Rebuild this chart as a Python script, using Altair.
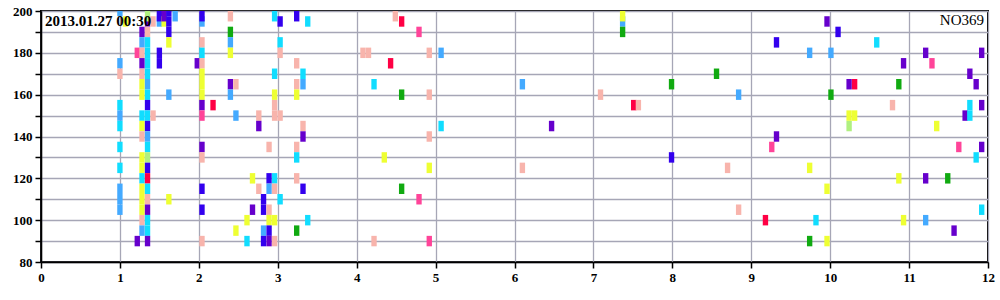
import altair as alt
import pandas as pd

# category colour names -> colours
cat_names = ["LB", "CY", "PK", "YE", "VI", "BL", "RD", "HP", "GR", "LG"]
cat_colors = ["#44aaff", "#11ddff", "#f8b4ac", "#eeff33", "#6600cc",
              "#3300ee", "#ff0044", "#ff4499", "#11aa11", "#b0f080"]

xs = [
    1.0, 1.0, 1.0, 1.0, 1.0, 1.0, 1.0, 1.0, 1.0, 1.0, 1.0,
    1.07, 1.22, 1.22,
    1.28, 1.28, 1.28, 1.28, 1.28, 1.28, 1.28, 1.28, 1.28, 1.28, 1.28, 1.28, 1.28, 1.28, 1.28, 1.28, 1.28, 1.28,
    1.35, 1.35, 1.35, 1.35, 1.35, 1.35, 1.35, 1.35, 1.35, 1.35, 1.35, 1.35, 1.35, 1.35, 1.35, 1.35, 1.35, 1.35, 1.35, 1.35, 1.35, 1.35, 1.35,
    1.42, 1.42,
    1.5, 1.5, 1.5, 1.5,
    1.56, 1.56,
    1.62, 1.62, 1.62, 1.62, 1.62, 1.62,
    1.70, 1.98,
    2.04, 2.04, 2.04, 2.04, 2.04, 2.04, 2.04, 2.04, 2.04, 2.04, 2.04, 2.04, 2.04, 2.04, 2.04,
    2.18,
    2.4, 2.4, 2.4, 2.4, 2.4, 2.4,
    2.47, 2.47, 2.47,
    2.61, 2.61,
    2.68, 2.68,
    2.76, 2.76, 2.76,
    2.82, 2.82, 2.82, 2.82,
    2.89, 2.89, 2.89, 2.89, 2.89, 2.89, 2.89,
    2.96, 2.96, 2.96, 2.96, 2.96, 2.96, 2.96, 2.96, 2.96,
    3.03, 3.03, 3.03, 3.03, 3.03,
    3.24, 3.24, 3.24, 3.24, 3.24, 3.24, 3.24, 3.24,
    3.32, 3.32, 3.32, 3.32, 3.32,
    3.38, 3.38,
    4.08, 4.15, 4.22, 4.22, 4.35, 4.43, 4.49,
    4.57, 4.57, 4.57, 4.79, 4.79,
    4.92, 4.92, 4.92, 4.92, 4.92,
    5.07, 5.07,
    6.1, 6.1, 6.47, 7.09,
    7.37, 7.37, 7.37,
    7.51, 7.57,
    7.99, 7.99, 8.56, 8.70, 8.84, 8.84,
    9.18, 9.26, 9.32, 9.32,
    9.74, 9.74, 9.74, 9.82,
    9.96, 9.96, 9.96,
    10.01, 10.01, 10.1,
    10.24, 10.24, 10.24, 10.31, 10.31,
    10.59, 10.79, 10.87, 10.87, 10.93, 10.93,
    11.21, 11.21, 11.21, 11.29, 11.35, 11.49, 11.57, 11.63,
    11.71, 11.77, 11.77, 11.77, 11.85, 11.85,
    11.92, 11.92, 11.92, 11.92,
]

ys = [
    200, 175, 170, 155, 150, 145, 135, 125, 115, 110, 105,
    195, 180, 90,
    190, 185, 180, 175, 170, 165, 160, 150, 145, 140, 130, 125, 120, 115, 110, 105, 100, 95,
    195, 197.5, 190, 185, 180, 175, 170, 165, 160, 155, 150, 145, 140, 135, 130, 125, 120, 115, 110, 105, 100, 95, 90,
    195, 150,
    195, 197.5, 180, 175,
    195, 197.5,
    200, 195, 190, 185, 160, 110,
    197.5, 175,
    195, 197.5, 185, 180, 175, 170, 165, 160, 155, 150, 135, 130, 115, 105, 90,
    155,
    197.5, 190, 185, 180, 165, 160,
    165, 150, 95,
    100, 90,
    120, 105,
    150, 145, 115,
    110, 105, 95, 90,
    135, 120, 115, 105, 100, 95, 90,
    197.5, 170, 160, 155, 150, 120, 115, 100, 90,
    195, 185, 180, 150, 110,
    197.5, 175, 165, 160, 135, 130, 120, 95,
    170, 165, 145, 140, 115,
    195, 100,
    180, 180, 165, 90, 130, 175, 197.5,
    195, 160, 115, 190, 110,
    180, 160, 140, 125, 90,
    180, 145,
    165, 125, 145, 160,
    195, 197.5, 190,
    155, 155,
    165, 130, 170, 125, 160, 105,
    100, 135, 185, 140,
    180, 125, 90, 100,
    195, 115, 90,
    180, 160, 190,
    165, 150, 145, 165, 150,
    185, 155, 165, 120, 175, 100,
    180, 120, 100, 175, 145, 120, 95, 135,
    150, 170, 155, 150, 165, 130,
    180, 155, 135, 105,
]

cs = [
    "LB", "LB", "PK", "CY", "LB", "CY", "CY", "CY", "LB", "LB", "LB",
    "YE", "HP", "VI",
    "VI", "LB", "PK", "VI", "PK", "YE", "YE", "CY", "YE", "PK", "YE", "YE", "CY", "YE", "YE", "YE", "PK", "LB",
    "VI", "LG", "PK", "CY", "CY", "CY", "CY", "LB", "CY", "BL", "CY", "BL", "LB", "CY", "LG", "BL", "RD", "CY", "PK", "VI", "CY", "CY", "VI",
    "PK", "PK",
    "LB", "BL", "BL", "BL",
    "YE", "VI",
    "BL", "BL", "BL", "YE", "LB", "YE",
    "LB", "VI",
    "LB", "BL", "PK", "CY", "PK", "YE", "YE", "YE", "VI", "HP", "VI", "PK", "BL", "BL", "PK",
    "RD",
    "PK", "GR", "LB", "YE", "VI", "LB",
    "PK", "LB", "YE",
    "YE", "CY",
    "YE", "VI",
    "PK", "VI", "PK",
    "BL", "BL", "LB", "BL",
    "PK", "BL", "LB", "PK", "YE", "BL", "VI",
    "CY", "CY", "YE", "PK", "PK", "CY", "PK", "YE", "PK",
    "BL", "CY", "PK", "PK", "CY",
    "BL", "PK", "PK", "YE", "PK", "CY", "PK", "GR",
    "CY", "LB", "PK", "VI", "BL",
    "CY", "CY",
    "PK", "PK", "CY", "PK", "YE", "RD", "PK",
    "RD", "GR", "GR", "HP", "HP",
    "PK", "PK", "PK", "YE", "HP",
    "LB", "CY",
    "LB", "PK", "VI", "PK",
    "LB", "YE", "GR",
    "RD", "PK",
    "GR", "BL", "GR", "PK", "LB", "PK",
    "RD", "HP", "BL", "VI",
    "LB", "YE", "GR", "CY",
    "VI", "YE", "YE",
    "LB", "GR", "BL",
    "VI", "YE", "LG", "RD", "YE",
    "CY", "PK", "GR", "YE", "VI", "YE",
    "VI", "VI", "LB", "HP", "YE", "GR", "VI", "HP",
    "VI", "VI", "CY", "CY", "VI", "CY",
    "VI", "VI", "VI", "CY",
]

x_ticks = list(range(0, 13))
y_ticks = list(range(80, 201, 10))
title_left = "2013.01.27 00:30"
title_right = "NO369"

df = pd.DataFrame({"x": xs, "y": ys, "c": cs})
df["order"] = range(len(df))

FONT = "Liberation Serif"

rects = alt.Chart(df).transform_calculate(
    x0="datum.x - 0.034", x1="datum.x + 0.034",
    y0="datum.y - 2.5", y1="datum.y + 2.5",
).mark_rect(clip=True).encode(
    x=alt.X("x0:Q", scale=alt.Scale(domain=[0, 12], nice=False, zero=False),
            axis=alt.Axis(values=x_ticks, title=None, format="d")),
    x2="x1:Q",
    y=alt.Y("y0:Q", scale=alt.Scale(domain=[80, 200], nice=False, zero=False),
            axis=alt.Axis(values=y_ticks, title=None,
                          labelExpr="datum.value % 20 == 0 ? datum.label : ''")),
    y2="y1:Q",
    color=alt.Color("c:N", scale=alt.Scale(domain=cat_names, range=cat_colors), legend=None),
    order=alt.Order("order:Q"),
)

left_text = alt.Chart(pd.DataFrame({"t": [title_left]})).mark_text(
    align="left", baseline="alphabetic", font=FONT, fontSize=15, fontWeight="bold", color="black"
).encode(text="t:N", x=alt.value(4), y=alt.value(15))

right_text = alt.Chart(pd.DataFrame({"t": [title_right]})).mark_text(
    align="right", baseline="alphabetic", font=FONT, fontSize=15, fontWeight="normal", color="black"
).encode(text="t:N", x=alt.value(943), y=alt.value(14))

chart = alt.layer(rects, left_text, right_text).properties(
    width=947, height=251,
    padding={"left": 41, "top": 11, "right": 12, "bottom": 38},
    autosize=alt.AutoSizeParams(type="none"),
    background="white",
).configure_view(
    stroke="black", strokeWidth=2
).configure_axis(
    grid=True, gridColor="#a6a6b6", gridWidth=1.3, gridOpacity=1,
    domainColor="black", domainWidth=1.5,
    tickColor="black", tickSize=6, tickWidth=1.5,
    labelFont=FONT, labelFontSize=13, labelFontWeight="bold", labelColor="black",
    labelFlush=False, labelOverlap=False, labelPadding=3,
)

chart.save("out.html", embed_options={"renderer": "svg", "actions": False})
